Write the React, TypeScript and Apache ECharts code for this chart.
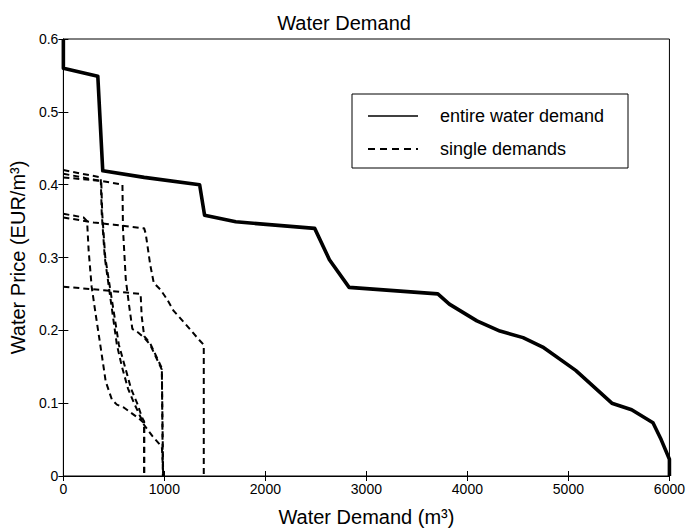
import React, { useEffect, useRef } from "react";
import * as echarts from "echarts";

const xTicks = [0, 1000, 2000, 3000, 4000, 5000, 6000];
const yTicks = [0, 0.1, 0.2, 0.3, 0.4, 0.5, 0.6];

// entire water demand (x: m3, y: EUR/m3)
const entireX = [0, 0, 341, 390, 800, 1349, 1398, 1707, 2488, 2634, 2829, 3707, 3821, 4094, 4322, 4551, 4746, 5072, 5430, 5626, 5837, 5918, 6000, 6000];
const entireY = [0.6, 0.56, 0.549, 0.419, 0.41, 0.4, 0.358, 0.349, 0.34, 0.297, 0.259, 0.25, 0.236, 0.213, 0.199, 0.19, 0.177, 0.145, 0.1, 0.091, 0.073, 0.05, 0.023, 0];

// single demands
const singleAX = [0, 370, 380, 410, 450, 490, 530, 580, 640, 700, 760, 800, 880, 975, 990];
const singleAY = [0.42, 0.41, 0.36, 0.3, 0.26, 0.22, 0.18, 0.15, 0.12, 0.1, 0.082, 0.07, 0.055, 0.04, 0];
const singleBX = [0, 375, 385, 415, 460, 505, 550, 610, 670, 730, 780, 800, 800];
const singleBY = [0.415, 0.405, 0.36, 0.3, 0.26, 0.22, 0.18, 0.15, 0.12, 0.1, 0.08, 0.075, 0];
const singleCX = [0, 380, 585, 590, 618, 651, 683, 740, 800, 860, 975, 985];
const singleCY = [0.41, 0.405, 0.4, 0.34, 0.27, 0.234, 0.202, 0.197, 0.19, 0.18, 0.146, 0];
const singleDX = [0, 200, 235, 250, 280, 322, 371, 419, 480, 530, 598, 728, 790, 800, 800];
const singleDY = [0.36, 0.355, 0.35, 0.31, 0.26, 0.22, 0.175, 0.13, 0.105, 0.098, 0.094, 0.081, 0.074, 0.07, 0];
const singleEX = [0, 300, 500, 800, 815, 860, 895, 960, 1025, 1090, 1200, 1350, 1390, 1390];
const singleEY = [0.355, 0.348, 0.345, 0.34, 0.333, 0.29, 0.265, 0.256, 0.243, 0.227, 0.21, 0.186, 0.18, 0];
const singleFX = [0, 400, 765, 775, 800, 860, 975, 988];
const singleFY = [0.26, 0.255, 0.25, 0.22, 0.192, 0.182, 0.148, 0];

const singles = [
  [singleAX, singleAY],
  [singleBX, singleBY],
  [singleCX, singleCY],
  [singleDX, singleDY],
  [singleEX, singleEY],
  [singleFX, singleFY],
];

const zip = (xs: number[], ys: number[]) => xs.map((x, i) => [x, ys[i]]);

const FONT = "'Liberation Sans', Arial, Helvetica, sans-serif";

export default function App() {
  const ref = useRef<HTMLDivElement>(null);
  useEffect(() => {
    if (!ref.current) return;
    const chart = echarts.init(ref.current, undefined, { renderer: "svg" });
    const dashSeries = singles.map(([xs, ys]) => ({
      name: "single demands",
      type: "line",
      data: zip(xs, ys),
      showSymbol: false,
      silent: true,
      z: 2,
      lineStyle: { color: "#000", width: 2, type: [6, 4] },
    }));
    chart.setOption({
      animation: false,
      backgroundColor: "#fff",
      textStyle: { fontFamily: FONT },
      title: {
        text: "Water Demand",
        left: "center",
        top: 8,
        textStyle: { fontSize: 20, fontWeight: "normal", color: "#000", fontFamily: FONT },
      },
      grid: { left: 60, right: 13, top: 39, bottom: 49, show: true, borderColor: "#000", borderWidth: 1, backgroundColor: "#fff" },
      xAxis: [
        {
          type: "value",
          min: xTicks[0],
          max: xTicks[xTicks.length - 1],
          interval: 1000,
          position: "bottom",
          axisLine: { show: true, lineStyle: { color: "#000", width: 1 } },
          axisTick: { show: true, inside: true, length: 5, lineStyle: { color: "#000" } },
          axisLabel: { fontSize: 14, color: "#000", margin: 6, fontFamily: FONT, formatter: (v: number) => String(v) },
          splitLine: { show: false },
          name: "Water Demand (m³)",
          nameLocation: "middle",
          nameGap: 31,
          nameTextStyle: { fontSize: 20, color: "#000", fontFamily: FONT },
        },
        {
          type: "value",
          min: xTicks[0],
          max: xTicks[xTicks.length - 1],
          interval: 1000,
          position: "top",
          axisLine: { show: true, lineStyle: { color: "#000", width: 1 } },
          axisTick: { show: true, inside: true, length: 5, lineStyle: { color: "#000" } },
          axisLabel: { show: false },
          splitLine: { show: false },
        },
      ],
      yAxis: [
        {
          type: "value",
          min: yTicks[0],
          max: yTicks[yTicks.length - 1],
          interval: 0.1,
          position: "left",
          axisLine: { show: true, lineStyle: { color: "#000", width: 1 } },
          axisTick: { show: true, inside: true, length: 5, lineStyle: { color: "#000" } },
          axisLabel: {
            fontSize: 14,
            color: "#000",
            margin: 5,
            fontFamily: FONT,
            formatter: (v: number) => String(Number(v.toFixed(1))),
          },
          splitLine: { show: false },
          name: "Water Price (EUR/m³)",
          nameLocation: "middle",
          nameGap: 28,
          nameRotate: 90,
          nameTextStyle: { fontSize: 20, color: "#000", fontFamily: FONT },
        },
        {
          type: "value",
          min: yTicks[0],
          max: yTicks[yTicks.length - 1],
          interval: 0.1,
          position: "right",
          axisLine: { show: true, lineStyle: { color: "#000", width: 1 } },
          axisTick: { show: true, inside: true, length: 5, lineStyle: { color: "#000" } },
          axisLabel: { show: false },
          splitLine: { show: false },
        },
      ],
      series: [
        {
          name: "entire water demand",
          type: "line",
          data: zip(entireX, entireY),
          showSymbol: false,
          silent: true,
          z: 3,
          lineStyle: { color: "#000", width: 3.6, join: "round" },
        },
        ...dashSeries,
      ],
      graphic: [
        {
          type: "rect",
          shape: { x: 352, y: 94, width: 276, height: 74 },
          style: { fill: "#fff", stroke: "#000", lineWidth: 1 },
          z: 10,
        },
        {
          type: "line",
          shape: { x1: 368, y1: 116, x2: 418, y2: 116 },
          style: { stroke: "#000", lineWidth: 1.5 },
          z: 11,
        },
        {
          type: "line",
          shape: { x1: 368, y1: 149, x2: 418, y2: 149 },
          style: { stroke: "#000", lineWidth: 2, lineDash: [7, 5] },
          z: 11,
        },
        {
          type: "text",
          x: 440,
          y: 116,
          style: { text: "entire water demand", fontSize: 18, fill: "#000", fontFamily: FONT, verticalAlign: "middle" },
          z: 11,
        },
        {
          type: "text",
          x: 440,
          y: 149,
          style: { text: "single demands", fontSize: 18, fill: "#000", fontFamily: FONT, verticalAlign: "middle" },
          z: 11,
        },
      ],
    });
    return () => chart.dispose();
  }, []);
  return <div ref={ref} style={{ width: 688, height: 532, position: "absolute", left: 0, top: 0 }} />;
}
